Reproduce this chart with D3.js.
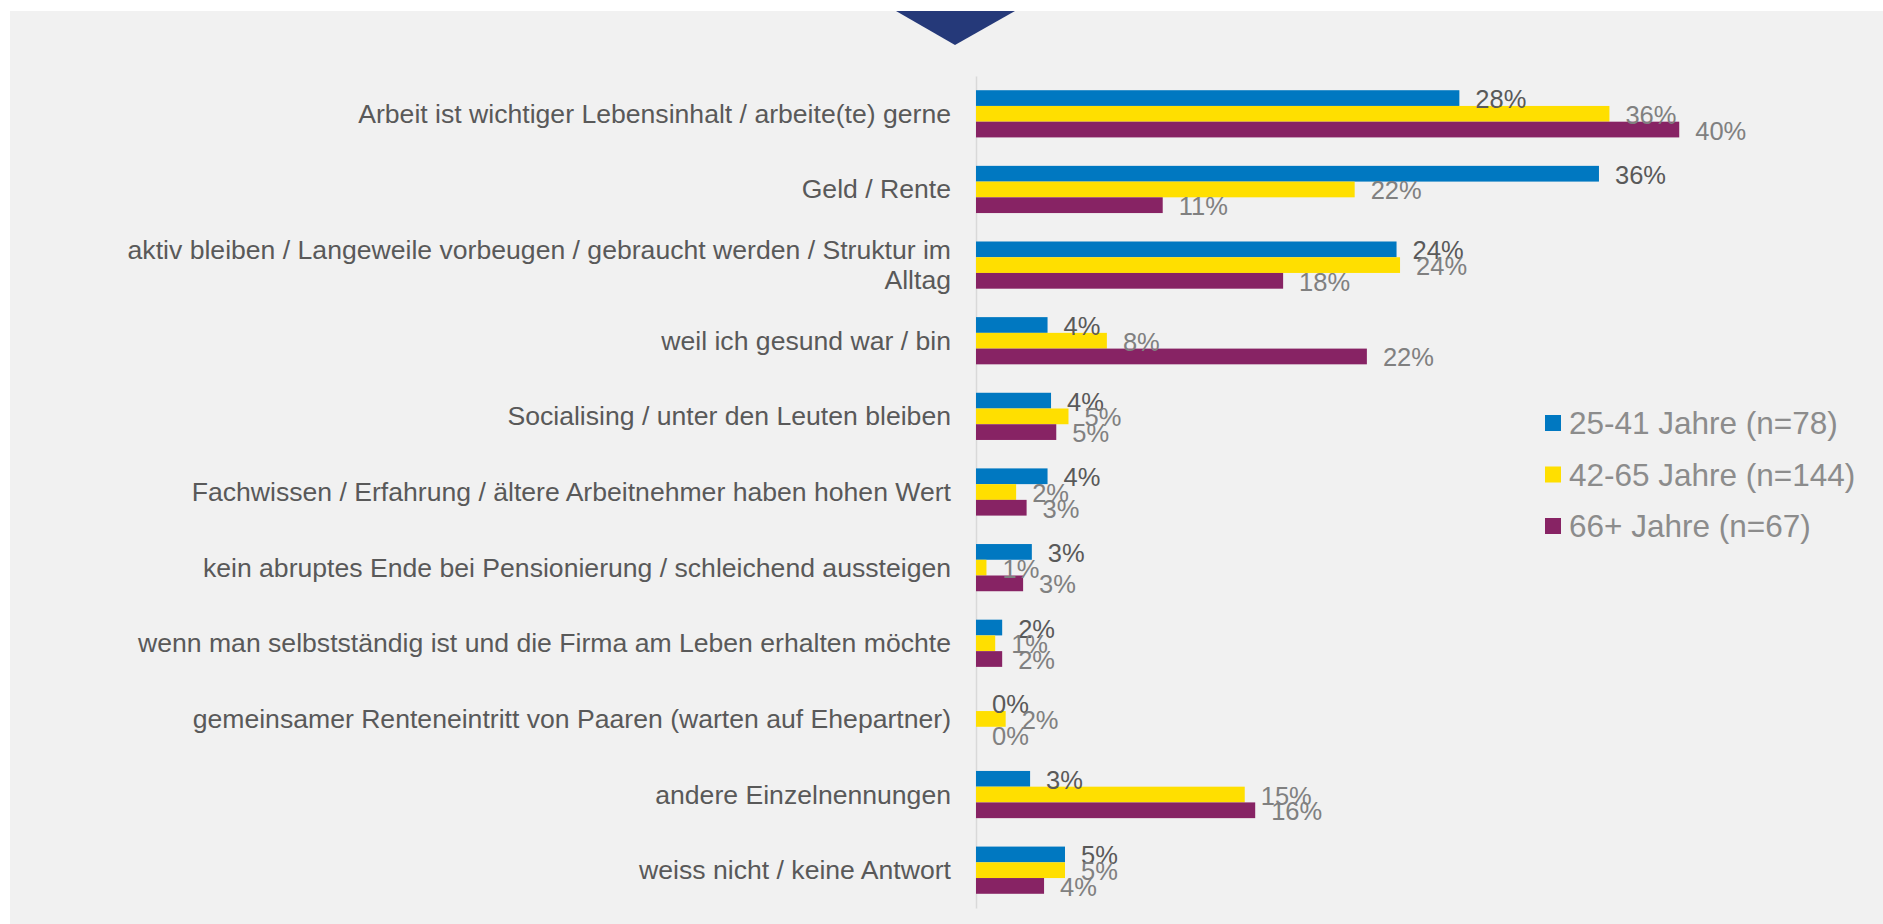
<!DOCTYPE html>
<html>
<head>
<meta charset="utf-8">
<script src="https://cdn.jsdelivr.net/npm/d3@7/dist/d3.min.js"></script>
<style>
  html, body { margin: 0; padding: 0; background: #ffffff; }
  svg { display: block; }
  text { font-family: "Liberation Sans", Arial, Helvetica, sans-serif; }
</style>
</head>
<body>
<svg id="chart" width="1883" height="924"></svg>
<script>
// ---- data ----
const categories = [
  "Arbeit ist wichtiger Lebensinhalt / arbeite(te) gerne",
  "Geld / Rente",
  "aktiv bleiben / Langeweile vorbeugen / gebraucht werden / Struktur im Alltag",
  "weil ich gesund war / bin",
  "Socialising / unter den Leuten bleiben",
  "Fachwissen / Erfahrung / ältere Arbeitnehmer haben hohen Wert",
  "kein abruptes Ende bei Pensionierung / schleichend aussteigen",
  "wenn man selbstständig ist und die Firma am Leben erhalten möchte",
  "gemeinsamer Renteneintritt von Paaren (warten auf Ehepartner)",
  "andere Einzelnennungen",
  "weiss nicht / keine Antwort"
];
const seriesNames = ["25-41 Jahre (n=78)", "42-65 Jahre (n=144)", "66+ Jahre (n=67)"];
const values25_41 = [27.7, 35.7, 24.1, 4.1, 4.3, 4.1, 3.2, 1.5, 0.0, 3.1, 5.1];
const values42_65 = [36.3, 21.7, 24.3, 7.5, 5.3, 2.3, 0.6, 1.1, 1.7, 15.4, 5.1];
const values66 = [40.3, 10.7, 17.6, 22.4, 4.6, 2.9, 2.7, 1.5, 0.0, 16.0, 3.9];
const seriesColors = ["#0078C1", "#FFDF00", "#872364"];
const labelColors = ["#595959", "#808080", "#808080"];

const series = [values25_41, values42_65, values66];

// ---- layout ----
const svg = d3.select("#chart");
svg.append("rect").attr("x", 10).attr("y", 11).attr("width", 1873).attr("height", 913).attr("fill", "#F1F1F1");
svg.append("path")
  .attr("d", d3.line()([[896, 11], [1015, 11], [955, 45]]) + "Z")
  .attr("fill", "#253979");

const x = d3.scaleLinear().domain([0, 45]).range([976, 976 + 45 * 17.45]);
const y = d3.scaleBand().domain(categories).range([76, 908]).paddingInner(0.376).paddingOuter(0.188);
const sub = d3.scaleBand().domain([0, 1, 2]).range([0, y.bandwidth()]);

// category axis
const yAxis = svg.append("g")
  .attr("transform", `translate(${x(0)},0)`)
  .call(d3.axisLeft(y).tickSize(0).tickSizeOuter(0).tickPadding(25));
yAxis.select(".domain").attr("stroke", "#D9D9D9").attr("stroke-width", 1.5);
yAxis.selectAll(".tick text")
  .attr("fill", "#595959")
  .style("font-size", "26.6px")
  .style("font-family", '"Liberation Sans", Arial, sans-serif')
  .each(function(d) {
    const t = d3.select(this);
    const words = d.split(" ");
    const maxW = 850;
    const lines = [];
    let cur = [];
    t.text(null);
    const probe = t.append("tspan");
    words.forEach(w => {
      const trial = cur.concat([w]).join(" ");
      probe.text(trial);
      if (probe.node().getComputedTextLength() > maxW && cur.length) {
        lines.push(cur.join(" "));
        cur = [w];
      } else cur.push(w);
    });
    lines.push(cur.join(" "));
    probe.remove();
    const lh = 30;
    lines.forEach((ln, i) => {
      t.append("tspan")
        .attr("x", -25)
        .attr("dy", i === 0 ? (-(lines.length - 1) * lh / 2) + "px" : lh + "px")
        .text(ln);
    });
    t.attr("dy", null).attr("dominant-baseline", "central");
  });

// bars
const groups = svg.append("g").selectAll("g")
  .data(categories).join("g")
  .attr("transform", d => `translate(0,${y(d)})`);

series.forEach((vals, si) => {
  groups.append("rect")
    .attr("x", x(0))
    .attr("y", sub(si))
    .attr("width", (d, i) => x(vals[i]) - x(0))
    .attr("height", sub.bandwidth())
    .attr("fill", seriesColors[si]);
});

series.forEach((vals, si) => {
  groups.append("text")
    .attr("x", (d, i) => x(vals[i]) + 16)
    .attr("y", sub(si) + sub.bandwidth() / 2 + 1)
    .attr("dominant-baseline", "central")
    .attr("fill", labelColors[si])
    .style("font-size", "25.5px")
    .text((d, i) => d3.format(".0f")(vals[i]) + "%");
});

// legend
const legend = svg.append("g").attr("transform", "translate(1545,415)");
seriesNames.forEach((name, i) => {
  const g = legend.append("g").attr("transform", `translate(0,${i * 51.5})`);
  g.append("rect").attr("width", 16).attr("height", 16).attr("fill", seriesColors[i]);
  g.append("text").attr("x", 24).attr("y", 8).attr("dominant-baseline", "central")
    .attr("fill", "#8C8C8C").style("font-size", "31.5px").text(name);
});
</script>
</body>
</html>
